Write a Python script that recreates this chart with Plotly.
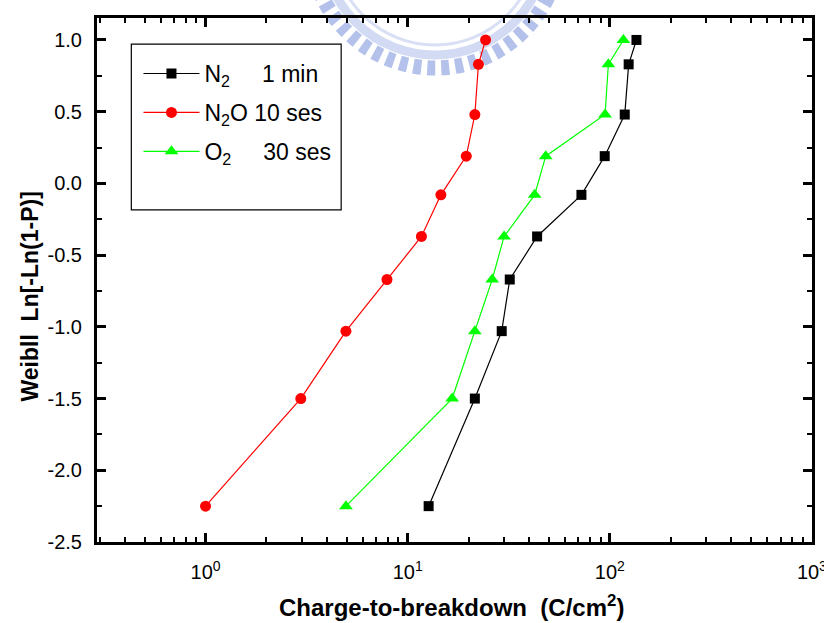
import plotly.graph_objects as go

# Weibull plotting positions shared by all three splits
weibull_y = [-2.25, -1.50, -1.03, -0.67, -0.37, -0.08, 0.19, 0.48, 0.83, 1.00]

# Charge-to-breakdown (C/cm^2) for each anneal condition
qbd_n2 = [12.7, 21.5, 29.2, 32.0, 43.7, 72.4, 94.4, 118.6, 124.0, 135.5]
qbd_n2o = [1.0, 2.96, 4.95, 7.9, 11.7, 14.6, 19.5, 21.5, 22.4, 24.3]
qbd_o2 = [4.95, 16.6, 21.5, 26.2, 30.0, 42.5, 48.2, 94.8, 98.4, 116.8]

series_names = [
    "N<sub>2</sub>\u00a0\u00a0\u00a0\u00a0\u00a01 min",
    "N<sub>2</sub>O\u00a010 ses",
    "O<sub>2</sub>\u00a0\u00a0\u00a0\u00a0\u00a030 ses",
]

x_tickvals = [1, 10, 100, 1000]
x_ticktext = ["10<sup>0</sup>", "10<sup>1</sup>", "10<sup>2</sup>", "10<sup>3</sup>"]
x_minorvals = [0.3, 0.4, 0.5, 0.6, 0.7, 0.8, 0.9,
               2, 3, 4, 5, 6, 7, 8, 9,
               20, 30, 40, 50, 60, 70, 80, 90,
               200, 300, 400, 500, 600, 700, 800, 900]
y_tickvals = [-2.5, -2.0, -1.5, -1.0, -0.5, 0.0, 0.5, 1.0]
y_ticktext = ["-2.5", "-2.0", "-1.5", "-1.0", "-0.5", "0.0", "0.5", "1.0"]

x_title = "<b>Charge-to-breakdown\u00a0\u00a0(C/cm<sup>2</sup>)</b>"
y_title = "<b>Weibll\u00a0\u00a0Ln[-Ln(1-P)]</b>"

FONT = "Liberation Sans, Arial, sans-serif"

fig = go.Figure()
styles = [
    (qbd_n2, "black", "square", 10),
    (qbd_n2o, "#ff0000", "circle", 11),
    (qbd_o2, "#00ff00", "triangle-up", 12),
]
for i, ((xs, color, symbol, size), name) in enumerate(zip(styles, series_names)):
    fig.add_trace(go.Scatter(
        x=xs, y=weibull_y, name=name, mode="lines+markers",
        legendgroup=f"g{i}",
        line=dict(color=color, width=1.2),
        marker=dict(color=color, symbol=symbol, size=size, line=dict(width=0)),
    ))

# Faint gear-shaped watermark at the top of the page, sized in pixels
# relative to the top-left corner of the plotting area.
def ring(cx, cy, r, width, color, dash="solid"):
    fig.add_shape(type="circle", xref="paper", yref="paper",
                  xsizemode="pixel", ysizemode="pixel", xanchor=0, yanchor=1,
                  x0=cx - r, x1=cx + r, y0=cy - r, y1=cy + r,
                  line=dict(color=color, width=width, dash=dash), layer="below")

ring(338, 75, 125, 15, "rgba(140,160,222,0.65)", dash="8px,6px")
ring(338, 75, 112, 9, "rgba(155,175,228,0.45)")
ring(338, 75, 102, 3, "rgba(170,185,232,0.45)")

# Legend frame
fig.add_shape(type="rect", xref="paper", yref="paper",
              x0=0.048, x1=0.3415, y0=0.634, y1=0.950,
              line=dict(color="black", width=1.2), fillcolor="rgba(0,0,0,0)")

axis_common = dict(
    showline=True, linecolor="black", linewidth=3, mirror="ticks",
    ticks="inside", tickcolor="black", tickwidth=2.5, ticklen=9,
    showgrid=False, zeroline=False, automargin=False,
    ticklabeloverflow="allow",
    tickfont=dict(family=FONT, size=20, color="black"),
)

fig.update_xaxes(
    type="log", range=[-0.537, 3.0005],
    tickvals=x_tickvals, ticktext=x_ticktext,
    minor=dict(ticks="inside", ticklen=5, tickwidth=2, tickcolor="black",
               tickvals=x_minorvals),
    ticklabelstandoff=10,
    **axis_common,
)
fig.update_yaxes(
    range=[-2.5, 1.153],
    tickvals=y_tickvals, ticktext=y_ticktext,
    minor=dict(ticks="inside", ticklen=5, tickwidth=2, tickcolor="black", dtick=0.25),
    ticklabelstandoff=8,
    **axis_common,
)

fig.add_annotation(text=x_title, xref="paper", yref="paper",
                   x=0.4965, y=-0.122, xanchor="center", yanchor="middle",
                   showarrow=False, font=dict(family=FONT, size=24, color="black"))
fig.add_annotation(text=y_title, xref="paper", yref="paper",
                   x=-0.0944, y=0.4676, xanchor="center", yanchor="middle",
                   textangle=-90, showarrow=False,
                   font=dict(family=FONT, size=23, color="black"))

fig.update_layout(
    width=824, height=623,
    margin=dict(l=97, r=12, t=18, b=81),
    paper_bgcolor="white", plot_bgcolor="white",
    showlegend=True,
    legend=dict(
        x=0.058, y=0.935, xanchor="left", yanchor="top",
        bgcolor="rgba(0,0,0,0)", borderwidth=0,
        font=dict(family=FONT, size=23, color="black"),
        itemwidth=56, tracegroupgap=6, traceorder="grouped",
    ),
)

fig.write_html("out.html")
